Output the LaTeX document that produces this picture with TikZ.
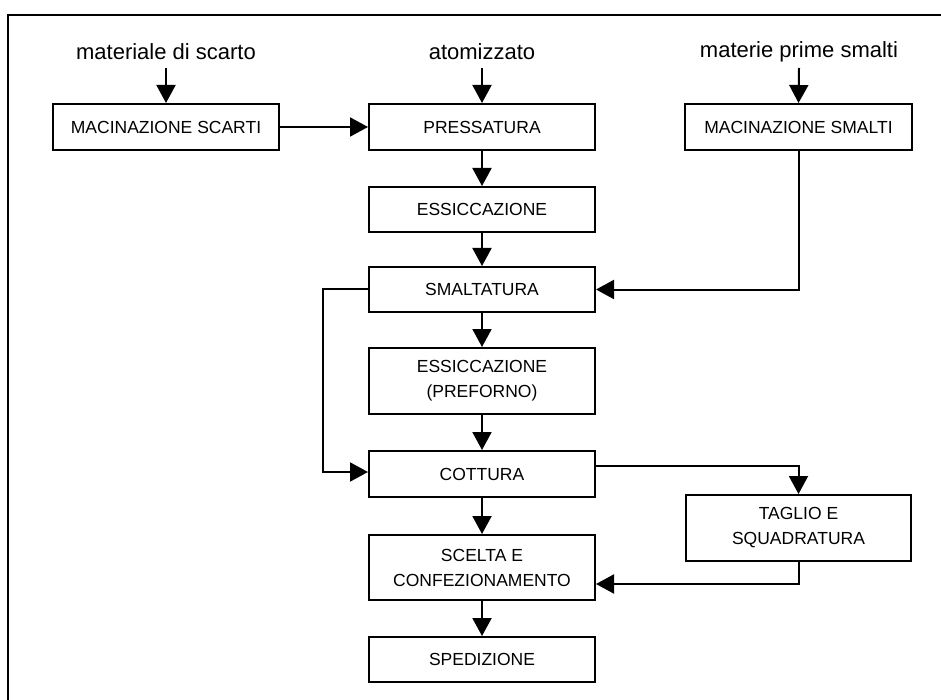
\documentclass[tikz,border=0pt]{standalone}
\usepackage{fontspec}
\setmainfont{Liberation Sans}
\usetikzlibrary{arrows.meta}
\tikzset{
  box/.style={draw=black, line width=2pt, minimum width=226pt, align=center, inner sep=0pt,
    font=\fontsize{17.5}{25}\selectfont},
  lab/.style={font=\fontsize{22}{26}\selectfont, inner sep=2pt},
  arr/.style={line width=2pt, -{Triangle[length=18pt,width=19pt]}},
  ln/.style={line width=2pt}
}
\begin{document}
\begin{tikzpicture}[x=1pt,y=-1pt]
\useasboundingbox (0,0) rectangle (941,700);
\draw[line width=2.2pt] (941,15) -- (8,15) -- (8,700);

\node[lab] (l1) at (166,52) {materiale di scarto};
\node[lab] (l2) at (482,52) {atomizzato};
\node[lab] (l3) at (799,52) {materie prime smalti};

\node[box, minimum height=46pt] (scarti) at (166,127) {MACINAZIONE SCARTI};
\node[box, minimum height=46pt] (press) at (482,127) {PRESSATURA};
\node[box, minimum height=46pt, minimum width=227pt] (msmalti) at (798.5,127) {MACINAZIONE SMALTI};
\node[box, minimum height=45pt] (essic) at (482,209.5) {ESSICCAZIONE};
\node[box, minimum height=45pt] (smalt) at (482,289.5) {SMALTATURA};
\node[box, minimum height=66pt] (pref) at (482,381) {ESSICCAZIONE\\(PREFORNO)};
\node[box, minimum height=46pt] (cott) at (482,474) {COTTURA};
\node[box, minimum height=66pt, minimum width=225pt] (taglio) at (798.5,528) {TAGLIO E\\SQUADRATURA};
\node[box, minimum height=65pt] (scelta) at (482,567.5) {SCELTA E\\CONFEZIONAMENTO};
\node[box, minimum height=45pt] (sped) at (482,659.5) {SPEDIZIONE};

\coordinate (c1) at (166,68);
\coordinate (c2) at (482,68);
\coordinate (c3) at (799,68);
\draw[arr] (c1) -- (scarti.north);
\draw[arr] (c2) -- (press.north);
\draw[arr] (c3) -- (msmalti.north);

\draw[arr] (scarti.east) -- (press.west);
\draw[arr] (press.south) -- (essic.north);
\draw[arr] (essic.south) -- (smalt.north);
\draw[arr] (msmalti.south) |- (smalt.east);
\draw[arr] ([yshift=1pt]smalt.west) -- ++(-45,0) |- ([yshift=2pt]cott.west);
\draw[arr] (smalt.south) -- (pref.north);
\draw[arr] (pref.south) -- (cott.north);
\draw[arr] ([yshift=8pt]cott.east) -| (taglio.north);
\draw[arr] (cott.south) -- (scelta.north);
\draw[arr] (taglio.south) |- ([yshift=-16.5pt]scelta.east);
\draw[arr] (scelta.south) -- (sped.north);
\end{tikzpicture}
\end{document}
